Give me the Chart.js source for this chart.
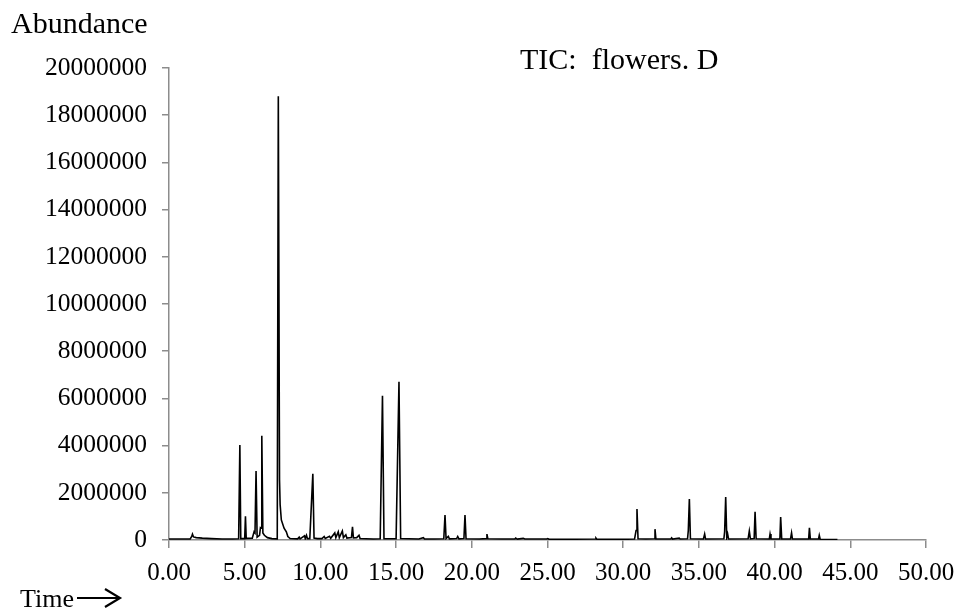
<!DOCTYPE html>
<html>
<head>
<meta charset="utf-8">
<script src="https://cdn.jsdelivr.net/npm/chart.js@4"></script>
<style>
  body { margin: 0; background: #fff; }
</style>
</head>
<body>
<canvas id="ticChart" width="959" height="609"></canvas>
<script>
// Retention time (min) and abundance
const retTimes = [
  0.00, 1.40, 1.50, 1.55, 1.62, 1.80, 2.20, 2.80, 3.50, 4.20,
  4.60, 4.68, 4.74, 5.00, 5.05, 5.10, 5.50, 5.62, 5.68, 5.75,
  5.82, 5.98, 6.04, 6.08, 6.13, 6.20, 6.30, 6.50, 6.80, 7.15,
  7.22, 7.30, 7.34, 7.42, 7.60, 7.75, 7.85, 8.00, 8.50, 8.60,
  8.66, 8.95, 9.00, 9.08, 9.14, 9.30, 9.50, 9.58, 9.80, 10.10,
  10.25, 10.32, 10.60, 10.68, 10.95, 11.02, 11.18, 11.25, 11.45, 11.52,
  11.68, 11.75, 12.05, 12.12, 12.18, 12.40, 12.55, 12.62, 13.00, 13.50,
  13.95, 14.10, 14.20, 15.00, 15.19, 15.30, 15.80, 16.50, 16.80, 16.88,
  17.50, 18.15, 18.23, 18.30, 18.45, 18.52, 19.00, 19.07, 19.15, 19.48,
  19.55, 19.62, 20.50, 20.95, 21.00, 21.06, 22.00, 22.85, 22.90, 23.00,
  23.40, 23.50, 24.95, 25.02, 25.10, 26.00, 28.15, 28.20, 28.26, 30.00,
  30.75, 30.85, 30.91, 30.98, 31.50, 32.05, 32.10, 32.16, 33.15, 33.20,
  33.26, 33.70, 33.76, 34.25, 34.30, 34.37, 34.44, 35.30, 35.38, 35.44,
  36.65, 36.70, 36.77, 36.84, 36.90, 36.96, 38.25, 38.33, 38.40, 38.65,
  38.71, 38.78, 39.65, 39.70, 39.76, 40.35, 40.40, 40.47, 41.05, 41.12,
  41.18, 42.25, 42.30, 42.36, 42.90, 42.95, 43.01, 44.15
];
const abundance = [
  40000, 45000, 150000, 250000, 130000, 100000, 80000, 60000, 45000, 40000,
  50000, 4020000, 60000, 60000, 1000000, 70000, 80000, 350000, 300000, 2920000,
  120000, 200000, 520000, 500000, 4420000, 300000, 200000, 100000, 60000, 50000,
  18800000, 2550000, 1500000, 850000, 500000, 350000, 150000, 60000, 50000, 120000,
  50000, 180000, 60000, 200000, 60000, 60000, 2810000, 80000, 60000, 60000,
  150000, 70000, 160000, 70000, 300000, 100000, 350000, 100000, 380000, 100000,
  220000, 80000, 100000, 560000, 90000, 100000, 200000, 60000, 50000, 40000,
  50000, 6110000, 50000, 50000, 6700000, 60000, 50000, 40000, 100000, 40000,
  40000, 50000, 1060000, 60000, 150000, 50000, 60000, 150000, 50000, 60000,
  1060000, 50000, 40000, 60000, 250000, 50000, 40000, 40000, 80000, 40000,
  70000, 40000, 40000, 60000, 30000, 30000, 40000, 80000, 30000, 30000,
  40000, 400000, 1310000, 50000, 40000, 50000, 460000, 40000, 40000, 90000,
  40000, 80000, 40000, 50000, 400000, 1740000, 50000, 40000, 250000, 40000,
  50000, 350000, 1820000, 100000, 250000, 40000, 50000, 380000, 50000, 60000,
  1200000, 50000, 40000, 250000, 40000, 40000, 970000, 40000, 40000, 300000,
  40000, 40000, 520000, 40000, 40000, 200000, 30000, 20000
];

const chartTitle = 'TIC:  flowers. D';
const yTitle = 'Abundance';
const xTitle = 'Time';

const serif = 'Liberation Serif';
const axisGrey = '#8c8c8c';

const points = retTimes.map((t, i) => ({ x: t, y: abundance[i] }));

// extra texts: title, axis names and the arrow after "Time"
const labelsPlugin = {
    id: 'labels',
    afterDraw(chart) {
        const ctx = chart.ctx;
        ctx.save();
        ctx.fillStyle = '#000';
        ctx.textBaseline = 'alphabetic';
        ctx.textAlign = 'left';
        ctx.font = `30px "${serif}"`;
        ctx.fillText(yTitle, 11, 33);
        ctx.fillText(chartTitle, 520, 69);
        ctx.font = `26px "${serif}"`;
        ctx.fillText(xTitle, 20, 607);
        // arrow
        ctx.strokeStyle = '#000';
        ctx.lineWidth = 2.2;
        ctx.beginPath();
        ctx.moveTo(77, 598);
        ctx.lineTo(120, 598);
        ctx.moveTo(105, 589);
        ctx.lineTo(120, 598);
        ctx.lineTo(105, 607);
        ctx.stroke();
        ctx.restore();
    }
};

new Chart(document.getElementById('ticChart').getContext('2d'), {
    type: 'line',
    data: {
        datasets: [{
            label: 'TIC',
            data: points,
            borderColor: '#000',
            borderWidth: 1.6,
            pointRadius: 0,
            tension: 0,
            fill: false
        }]
    },
    options: {
        responsive: false,
        animation: false,
        layout: {
            padding: { top: 68, left: 0, right: 33, bottom: 0 }
        },
        plugins: {
            legend: { display: false },
            tooltip: { enabled: false }
        },
        scales: {
            x: {
                type: 'linear',
                min: 0,
                max: 50,
                afterFit: scale => {
                    scale.height = 69;
                    scale.paddingLeft = 0;
                    scale.paddingRight = 0;
                },
                grid: {
                    drawOnChartArea: false,
                    drawTicks: true,
                    tickLength: 8,
                    color: axisGrey,
                    lineWidth: 1.5
                },
                border: { color: axisGrey, width: 1.5 },
                ticks: {
                    stepSize: 5,
                    padding: 10,
                    maxRotation: 0,
                    color: '#000',
                    font: { family: serif, size: 25 },
                    callback: v => v.toFixed(2)
                }
            },
            y: {
                min: 0,
                max: 20000000,
                afterFit: scale => { scale.width = 169; },
                grid: {
                    drawOnChartArea: false,
                    drawTicks: true,
                    tickLength: 7,
                    color: axisGrey,
                    lineWidth: 1.5
                },
                border: { color: axisGrey, width: 1.5 },
                ticks: {
                    stepSize: 2000000,
                    padding: 15,
                    color: '#000',
                    font: { family: serif, size: 25.5 },
                    callback: v => String(v)
                }
            }
        }
    },
    plugins: [labelsPlugin]
});
</script>
</body>
</html>
